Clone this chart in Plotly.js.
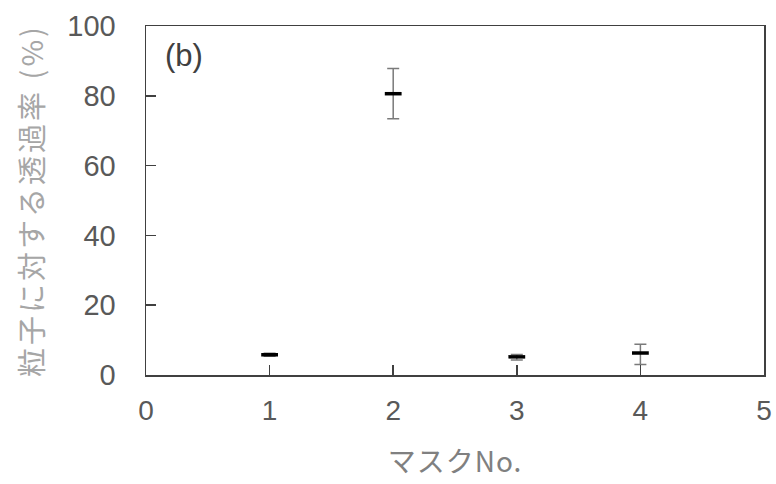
<!DOCTYPE html>
<html>
<head>
<meta charset="utf-8">
<script src="https://cdn.plot.ly/plotly-3.0.1.min.js"></script>
<style>
  html, body { margin: 0; padding: 0; background: #fff; }
  #chart { width: 776px; height: 484px; }
  /* a little extra spacing between the Japanese title glyphs */
  #chart .ytitle { letter-spacing: 3px; }
  #chart .xtitle { letter-spacing: 1px; }
</style>
</head>
<body>
<div id="chart"></div>
<script>
// Mask number vs. particle transmission rate (%), with error bars
const masks = [1, 2, 3, 4];
const transmission = [5.8, 80.6, 5.2, 6.3];
const errPlus = [0.4, 7.2, 0.7, 2.5];
const errMinus = [0.4, 7.2, 0.9, 3.3];

const xTicks = [0, 1, 2, 3, 4, 5];
const yTicks = [0, 20, 40, 60, 80, 100];

const FONT = 'Liberation Sans, Arial, "Noto Sans CJK JP", sans-serif';
const JP_FONT = '"Noto Sans CJK JP", sans-serif';

const trace = {
  x: masks,
  y: transmission,
  type: 'scatter',
  mode: 'markers',
  marker: { symbol: 'line-ew', size: 12, line: { width: 3.5, color: '#000' }, color: '#000' },
  error_y: {
    type: 'data',
    array: errPlus,
    arrayminus: errMinus,
    symmetric: false,
    color: '#7a7a7a',
    thickness: 1.5,
    width: 6
  },
  hoverinfo: 'skip'
};

const layout = {
  width: 776,
  height: 484,
  margin: { l: 146, r: 12, t: 26, b: 109 },
  paper_bgcolor: '#fff',
  plot_bgcolor: '#fff',
  showlegend: false,
  font: { family: FONT, color: '#595959' },
  xaxis: {
    range: [0, 5],
    tickvals: xTicks,
    ticktext: xTicks.map(String),
    ticks: 'inside',
    ticklen: 10,
    tickwidth: 1.5,
    tickcolor: '#404040',
    showgrid: false,
    zeroline: false,
    showline: true,
    linecolor: '#404040',
    linewidth: 1.5,
    mirror: true,
    ticklabelstandoff: 10,
    tickfont: { size: 28, color: '#595959', family: FONT },
    title: { text: 'マスクNo.', font: { size: 28, color: '#808080', family: JP_FONT }, standoff: 27 }
  },
  yaxis: {
    range: [0, 100],
    tickvals: yTicks,
    ticktext: yTicks.map(String),
    ticks: 'inside',
    ticklen: 10,
    tickwidth: 1.5,
    tickcolor: '#404040',
    showgrid: false,
    zeroline: false,
    showline: true,
    linecolor: '#404040',
    linewidth: 1.5,
    mirror: true,
    ticklabelstandoff: 23,
    tickfont: { size: 29, color: '#595959', family: FONT },
    title: { text: '粒子に対する透過率 (%)', font: { size: 29, color: '#a6a6a6', family: JP_FONT }, standoff: 15 }
  },
  annotations: [{
    text: '(b)',
    xref: 'paper', yref: 'paper',
    x: 0.027, y: 0.972,
    xanchor: 'left', yanchor: 'top',
    showarrow: false,
    font: { size: 31, color: '#404040', family: FONT }
  }]
};

Plotly.newPlot('chart', [trace], layout, { displayModeBar: false, staticPlot: true });
</script>
</body>
</html>
